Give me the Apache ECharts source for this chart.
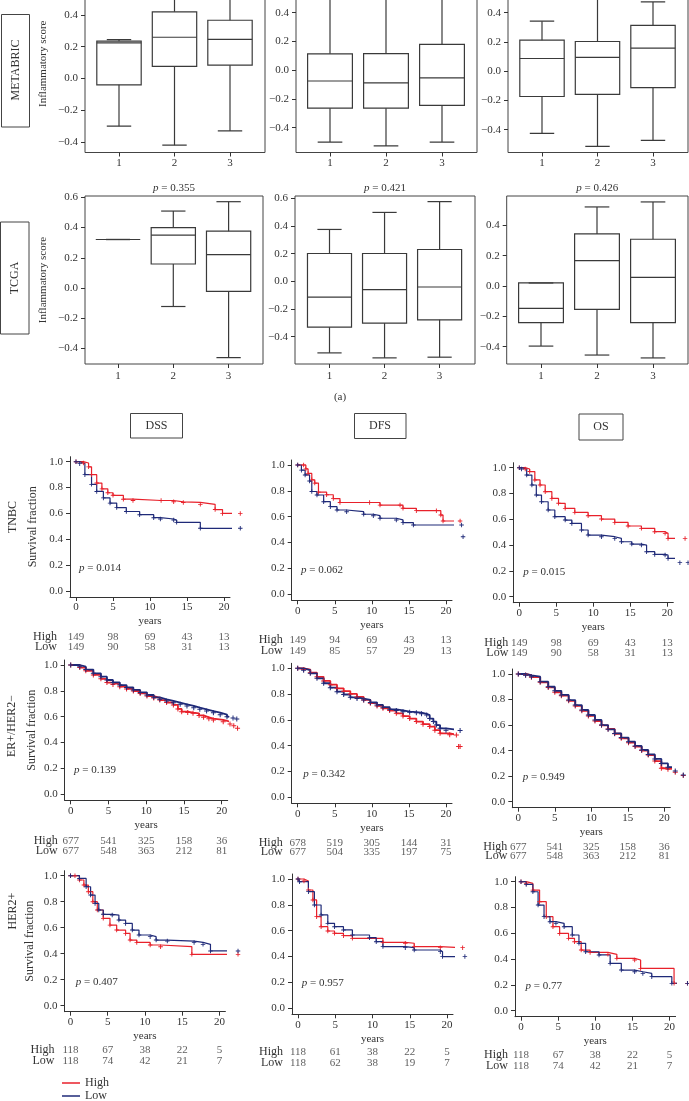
<!DOCTYPE html>
<html>
<head>
<meta charset="utf-8">
<script src="https://cdn.jsdelivr.net/npm/echarts@6.0.0/dist/echarts.min.js"></script>
<style>
  html, body { margin: 0; padding: 0; background: #fff; }
  #chart { width: 689px; height: 1101px; }
</style>
</head>
<body>
<div id="chart"></div>
<script>
const FONT = '"Liberation Serif", "DejaVu Serif", serif';
const INK = '#333';
const BOXINK = '#3a3a3a';
const RED = '#e8212b';
const NAVY = '#1f2a78';

// ---- (a) inflammatory score boxes, each [min, Q1, median, Q3, max]
const boxGroups = [1, 2, 3];
const boxRows = ['METABRIC', 'TCGA'];
const metabricDSS = [[-0.30, -0.04, 0.225, 0.235, 0.245], [-0.42, 0.077, 0.26, 0.42, 0.50], [-0.33, 0.084, 0.246, 0.367, 0.62]];
const metabricDFS = [[-0.50, -0.264, -0.075, 0.114, 0.62], [-0.527, -0.264, -0.088, 0.116, 0.64], [-0.50, -0.245, -0.054, 0.18, 0.62]];
const metabricOS = [[-0.425, -0.173, 0.087, 0.212, 0.342], [-0.514, -0.158, 0.094, 0.203, 0.58], [-0.473, -0.112, 0.158, 0.313, 0.474]];
const tcgaDSS = [[0.321, 0.321, 0.321, 0.321, 0.321], [-0.122, 0.159, 0.35, 0.40, 0.509], [-0.46, -0.022, 0.221, 0.376, 0.571]];
const tcgaDFS = [[-0.517, -0.331, -0.114, 0.201, 0.375], [-0.553, -0.302, -0.06, 0.201, 0.498], [-0.548, -0.278, -0.041, 0.23, 0.576]];
const tcgaOS = [[-0.396, -0.242, -0.147, 0.02, 0.02], [-0.455, -0.154, 0.167, 0.343, 0.521], [-0.474, -0.242, 0.057, 0.308, 0.554]];
const tcgaP = ['0.355', '0.421', '0.426'];

// ---- (b) Kaplan-Meier curves, [years, survival fraction]
const kmRows = ['TNBC', 'ER+/HER2\u2212', 'HER2+'];
const kmCols = ['DSS', 'DFS', 'OS'];
const kmArms = ['High', 'Low'];
const kmTicks = [0, 5, 10, 15, 20];
const riskTimes = [0, 5, 10, 15, 20];
const kmP = ['0.014', '0.062', '0.015', '0.139', '0.342', '0.949', '0.407', '0.957', '0.77'];

const tnbcDssHigh = [[0,1],[1,0.99],[1.7,0.96],[2.1,0.9],[2.8,0.835],[3.5,0.79],[4.3,0.76],[5,0.74],[6.4,0.71],[7.7,0.70],[11.5,0.70],[13.2,0.69],[14.5,0.685],[16.8,0.67],[18.8,0.63],[19.8,0.60],[22.2,0.60]];
const tnbcDssLow = [[0,1],[0.5,0.985],[1.2,0.9],[2.1,0.825],[2.8,0.77],[3.7,0.72],[4.6,0.68],[5.5,0.645],[6.8,0.615],[8.6,0.59],[10.5,0.567],[11.4,0.557],[13.2,0.549],[13.6,0.531],[16.8,0.485],[22.2,0.485]];
const tnbcDfsHigh = [[0,1],[0.8,1],[1.1,0.97],[1.4,0.935],[1.9,0.885],[2.3,0.86],[2.8,0.79],[3.9,0.77],[4.8,0.74],[5.7,0.71],[9.7,0.71],[11.1,0.69],[13.8,0.69],[14.2,0.665],[16,0.647],[18.7,0.647],[19.3,0.613],[19.6,0.567],[21.9,0.567]];
const tnbcDfsLow = [[0,1],[0.5,0.96],[1,0.923],[1.6,0.876],[1.9,0.795],[2.6,0.768],[3.5,0.716],[4.4,0.678],[5.3,0.652],[6.6,0.639],[8.9,0.619],[10.2,0.608],[11.1,0.588],[13.3,0.575],[14.2,0.554],[15.6,0.536],[22.1,0.536],[22.3,0.445]];
const tnbcOsHigh = [[0,1],[0.8,0.99],[1.4,0.97],[2.1,0.905],[2.8,0.866],[3.5,0.814],[4.4,0.762],[5.3,0.724],[6.2,0.685],[7.5,0.654],[9.3,0.628],[11.1,0.602],[12.9,0.576],[14.7,0.548],[16.5,0.53],[18.3,0.504],[19.7,0.491],[20.1,0.452],[22.4,0.452]];
const tnbcOsLow = [[0,1],[0.3,0.99],[1,0.943],[1.7,0.866],[2.3,0.788],[3,0.736],[3.9,0.672],[4.8,0.62],[6.2,0.594],[7.1,0.568],[8.4,0.517],[9.3,0.478],[11.1,0.465],[12.9,0.452],[13.8,0.426],[15.2,0.408],[16.5,0.40],[17.2,0.349],[18.3,0.328],[19.7,0.323],[20.1,0.297],[21.7,0.264],[22.8,0.264]];

const erDssHigh = [[0,1],[1.2,0.98],[2,0.955],[3,0.923],[4,0.893],[4.8,0.864],[5.6,0.85],[6.5,0.832],[7.4,0.815],[8.3,0.799],[9.2,0.78],[10.1,0.76],[11,0.745],[11.8,0.729],[12.7,0.71],[13.6,0.691],[14.2,0.66],[14.7,0.639],[15.5,0.632],[16.2,0.626],[17,0.61],[17.6,0.595],[18.3,0.585],[18.9,0.575],[20.2,0.562],[21.1,0.544],[21.6,0.53],[22.1,0.51]];
const erDssLow = [[0,1],[1.2,0.987],[2,0.965],[3,0.936],[4,0.91],[4.8,0.884],[5.6,0.865],[6.5,0.845],[7.4,0.826],[8.3,0.807],[9.2,0.788],[10.1,0.768],[11,0.75],[11.8,0.735],[12.7,0.722],[13.6,0.709],[14.5,0.696],[15.4,0.683],[16.3,0.67],[17.1,0.657],[18,0.644],[18.9,0.631],[19.8,0.616],[20.7,0.60],[21.5,0.59],[22,0.582]];
const erDfsHigh = [[0,1],[0.8,0.99],[1.7,0.966],[2.6,0.934],[3.5,0.902],[4.4,0.873],[5.3,0.845],[6.2,0.823],[7.1,0.801],[8,0.778],[8.9,0.755],[9.8,0.73],[10.7,0.708],[11.5,0.69],[12.4,0.672],[13.3,0.651],[14.2,0.63],[15.1,0.61],[16,0.587],[16.9,0.567],[17.8,0.548],[18.5,0.52],[19.2,0.496],[20.5,0.485],[21.4,0.483],[21.7,0.393],[21.9,0.393]];
const erDfsLow = [[0,1],[0.8,0.985],[1.7,0.961],[2.6,0.922],[3.5,0.884],[4.4,0.85],[5.3,0.819],[6.2,0.797],[7.1,0.775],[8,0.765],[8.9,0.755],[9.8,0.735],[10.7,0.716],[11.5,0.699],[12.4,0.682],[13.3,0.673],[14.2,0.664],[15.1,0.66],[16,0.656],[16.7,0.647],[17.4,0.638],[17.8,0.61],[18.3,0.587],[18.7,0.56],[19.2,0.535],[20,0.52],[21.9,0.517]];
const erOsHigh = [[0,1],[1,0.992],[1.8,0.975],[3,0.935],[4.1,0.895],[5,0.857],[5.9,0.83],[6.9,0.79],[7.8,0.75],[8.7,0.712],[9.6,0.672],[10.5,0.632],[11.4,0.598],[12.3,0.57],[13.2,0.532],[14.1,0.497],[15.1,0.462],[16,0.432],[16.9,0.40],[17.8,0.365],[18.7,0.318],[19.6,0.262],[20.5,0.255],[21.5,0.23],[22.6,0.205]];
const erOsLow = [[0,1],[1,0.99],[1.8,0.979],[3,0.94],[4.1,0.90],[5,0.868],[5.9,0.836],[6.9,0.796],[7.8,0.757],[8.7,0.718],[9.6,0.679],[10.5,0.64],[11.4,0.60],[12.3,0.567],[13.2,0.535],[14.1,0.502],[15.1,0.47],[16,0.437],[16.9,0.405],[17.8,0.37],[18.7,0.335],[19.6,0.30],[20.5,0.27],[21.5,0.24],[22.6,0.209]];

const her2DssHigh = [[0,1],[0.6,1],[1.2,0.967],[1.8,0.928],[2.4,0.877],[3,0.80],[3.6,0.736],[4.4,0.672],[5.3,0.62],[6.2,0.582],[7.4,0.556],[8,0.505],[8.9,0.487],[10.7,0.467],[12.1,0.454],[16.3,0.395],[22.5,0.395]];
const her2DssLow = [[0,1],[1.2,0.979],[2.1,0.915],[2.7,0.851],[3.3,0.787],[3.8,0.736],[4.4,0.703],[5.6,0.697],[6.5,0.659],[7.4,0.633],[8.3,0.582],[9.2,0.544],[10.7,0.531],[11.5,0.505],[13,0.497],[16.6,0.487],[17.8,0.472],[18.8,0.421],[22.5,0.421]];
const her2DfsHigh = [[0,1],[0.8,0.985],[1.4,0.915],[2,0.838],[2.5,0.709],[3.1,0.631],[4,0.598],[4.9,0.58],[6.1,0.562],[7.3,0.541],[11.4,0.51],[14.4,0.503],[15.6,0.477],[19.1,0.469],[22.1,0.469]];
const her2DfsLow = [[0,1],[0.2,0.979],[1.4,0.902],[2.2,0.799],[3.1,0.722],[4,0.657],[4.9,0.631],[6.1,0.606],[7.3,0.567],[9.6,0.546],[10.5,0.515],[11.4,0.477],[14.4,0.469],[15.6,0.451],[19.1,0.438],[19.4,0.40],[22.4,0.40]];
const her2OsHigh = [[0,1],[0.7,0.987],[1.6,0.935],[2.5,0.845],[3.4,0.729],[4.3,0.651],[5.2,0.599],[6.4,0.561],[7.2,0.535],[8.1,0.47],[9.3,0.452],[11.7,0.437],[12.9,0.406],[15.3,0.393],[16.1,0.328],[20.6,0.212],[22.4,0.212]];
const her2OsLow = [[0,1],[0.7,0.979],[1.6,0.922],[2.3,0.819],[3.1,0.729],[3.9,0.69],[4.7,0.677],[5.8,0.651],[6.9,0.587],[7.8,0.522],[8.7,0.457],[10.5,0.432],[12,0.367],[13.5,0.315],[15.3,0.302],[16.4,0.289],[17.6,0.264],[20.3,0.212],[22.4,0.212]];

// numbers at risk at riskTimes
const tnbcDssRiskHigh = [149, 98, 69, 43, 13], tnbcDssRiskLow = [149, 90, 58, 31, 13];
const tnbcDfsRiskHigh = [149, 94, 69, 43, 13], tnbcDfsRiskLow = [149, 85, 57, 29, 13];
const tnbcOsRiskHigh = [149, 98, 69, 43, 13], tnbcOsRiskLow = [149, 90, 58, 31, 13];
const erDssRiskHigh = [677, 541, 325, 158, 36], erDssRiskLow = [677, 548, 363, 212, 81];
const erDfsRiskHigh = [678, 519, 305, 144, 31], erDfsRiskLow = [677, 504, 335, 197, 75];
const erOsRiskHigh = [677, 541, 325, 158, 36], erOsRiskLow = [677, 548, 363, 212, 81];
const her2DssRiskHigh = [118, 67, 38, 22, 5], her2DssRiskLow = [118, 74, 42, 21, 7];
const her2DfsRiskHigh = [118, 61, 38, 22, 5], her2DfsRiskLow = [118, 62, 38, 19, 7];
const her2OsRiskHigh = [118, 67, 38, 22, 5], her2OsRiskLow = [118, 74, 42, 21, 7];

// ---- layout (pixel calibration of each panel)
const boxLayout = [
  { data: metabricDSS, L: 85, R: 265, T: -25, B: 152.5, xc: [[1, 119], [3, 230]], yc: [[0.4, 15], [-0.4, 142]], ticks: [-0.4, -0.2, 0, 0.2, 0.4], yName: 36, xm: 5 },
  { data: metabricDFS, L: 296, R: 477, T: -25, B: 152.5, xc: [[1, 330], [3, 442]], yc: [[0.4, 12.7], [-0.4, 127.7]], ticks: [-0.4, -0.2, 0, 0.2, 0.4], xm: 5 },
  { data: metabricOS, L: 508, R: 688, T: -25, B: 152.5, xc: [[1, 542], [3, 653]], yc: [[0.4, 12.7], [-0.4, 129.7]], ticks: [-0.4, -0.2, 0, 0.2, 0.4], xm: 5 },
  { data: tcgaDSS, L: 85, R: 263, T: 196, B: 364, xc: [[1, 118], [3, 228.6]], yc: [[0.6, 197.3], [-0.2, 318.3]], ticks: [-0.4, -0.2, 0, 0.2, 0.4, 0.6], yName: 36, xm: 7, p: tcgaP[0] },
  { data: tcgaDFS, L: 295, R: 475, T: 196, B: 364, xc: [[1, 329.5], [3, 439.6]], yc: [[0.6, 198.3], [-0.4, 336.7]], ticks: [-0.6, -0.4, -0.2, 0, 0.2, 0.4, 0.6], xm: 7, p: tcgaP[1] },
  { data: tcgaOS, L: 506.7, R: 688, T: 196, B: 364, xc: [[1, 541], [3, 653]], yc: [[0.4, 225.3], [-0.4, 346.7]], ticks: [-0.4, -0.2, 0, 0.2, 0.4], xm: 7, p: tcgaP[2] }
];

const kmLayout = [
  { hi: tnbcDssHigh, lo: tnbcDssLow, rHi: tnbcDssRiskHigh, rLo: tnbcDssRiskLow, x0: 76, x20: 224, y1: 461.7, y0: 591, risk: [636.7, 647.3], lg: 13, yName: 31, pAt: [79, 567.7] },
  { hi: tnbcDfsHigh, lo: tnbcDfsLow, rHi: tnbcDfsRiskHigh, rLo: tnbcDfsRiskLow, x0: 297.7, x20: 446, y1: 465, y0: 594.3, risk: [640, 650.7], lg: 9, pAt: [301, 570] },
  { hi: tnbcOsHigh, lo: tnbcOsLow, rHi: tnbcOsRiskHigh, rLo: tnbcOsRiskLow, x0: 519.3, x20: 667.3, y1: 467.7, y0: 596.7, risk: [642.7, 653.3], lg: 5, pAt: [523.3, 572.3] },
  { hi: erDssHigh, lo: erDssLow, rHi: erDssRiskHigh, rLo: erDssRiskLow, x0: 70.7, x20: 221.7, y1: 665, y0: 794.3, risk: [840.7, 850.7], lg: 7, yName: 27, pAt: [74, 770], thick: true },
  { hi: erDfsHigh, lo: erDfsLow, rHi: erDfsRiskHigh, rLo: erDfsRiskLow, x0: 297.7, x20: 446, y1: 668.3, y0: 797.3, risk: [842.7, 852.3], lg: 9, pAt: [303.3, 774], thick: true },
  { hi: erOsHigh, lo: erOsLow, rHi: erOsRiskHigh, rLo: erOsRiskLow, x0: 518.3, x20: 664.3, y1: 674, y0: 801.7, risk: [846.7, 856], lg: 5, pAt: [522.7, 776.7], thick: true },
  { hi: her2DssHigh, lo: her2DssLow, rHi: her2DssRiskHigh, rLo: her2DssRiskLow, x0: 70.5, x20: 219.4, y1: 875.7, y0: 1005.7, risk: [1050, 1060.7], lg: 10, yName: 29, pAt: [75.8, 981.7] },
  { hi: her2DfsHigh, lo: her2DfsLow, rHi: her2DfsRiskHigh, rLo: her2DfsRiskLow, x0: 298, x20: 447, y1: 879, y0: 1008.3, risk: [1052.3, 1063.3], lg: 9, pAt: [301.8, 983.3] },
  { hi: her2OsHigh, lo: her2OsLow, rHi: her2OsRiskHigh, rLo: her2OsRiskLow, x0: 521, x20: 669.6, y1: 881.7, y0: 1010.7, risk: [1055, 1065.7], lg: 7, pAt: [525.6, 985.7] }
];

const cal = (c, px) => c[0][0] + (px - c[0][1]) * (c[1][0] - c[0][0]) / (c[1][1] - c[0][1]);
const fmt1 = v => (v < 0 ? '\u2212' : '') + Math.abs(v).toFixed(1);
const tickStyle = { color: INK, width: 1 };
const labelStyle = { color: INK, fontFamily: FONT, fontSize: 11 };

const grids = [], xAxes = [], yAxes = [], series = [], graphics = [];

function renderBox(params, api) {
  const g = api.value(0);
  const mn = api.value(1), q1 = api.value(2), md = api.value(3), q3 = api.value(4), mx = api.value(5);
  const hw = 0.4, cw = 0.22;
  const tl = api.coord([g - hw, q3]), br = api.coord([g + hw, q1]);
  const seg = (a, b) => ({ type: 'line', shape: { x1: a[0], y1: a[1], x2: b[0], y2: b[1] }, style: { stroke: BOXINK, lineWidth: 1.2 } });
  return { type: 'group', children: [
    seg(api.coord([g, q3]), api.coord([g, mx])),
    seg(api.coord([g, q1]), api.coord([g, mn])),
    seg(api.coord([g - cw, mx]), api.coord([g + cw, mx])),
    seg(api.coord([g - cw, mn]), api.coord([g + cw, mn])),
    { type: 'rect', shape: { x: tl[0], y: tl[1], width: br[0] - tl[0], height: br[1] - tl[1] }, style: { fill: 'none', stroke: BOXINK, lineWidth: 1.2 } },
    seg(api.coord([g - hw, md]), api.coord([g + hw, md]))
  ] };
}

boxLayout.forEach(p => {
  const gi = grids.length;
  grids.push({ left: p.L, top: p.T, width: p.R - p.L, height: p.B - p.T, show: true, borderColor: '#444', borderWidth: 1, backgroundColor: 'transparent', outerBoundsMode: 'none', containLabel: false });
  xAxes.push({
    gridIndex: gi, type: 'value', min: cal(p.xc, p.L), max: cal(p.xc, p.R),
    axisLine: { show: false, onZero: false }, splitLine: { show: false },
    axisTick: { show: true, customValues: boxGroups, length: 4, lineStyle: tickStyle },
    axisLabel: { customValues: boxGroups, margin: p.xm, ...labelStyle, formatter: v => String(v) }
  });
  yAxes.push({
    gridIndex: gi, type: 'value', min: cal(p.yc, p.B), max: cal(p.yc, p.T),
    axisLine: { show: false, onZero: false }, splitLine: { show: false },
    axisTick: { show: true, customValues: p.ticks, length: 4, lineStyle: tickStyle },
    axisLabel: { customValues: p.ticks, margin: 7, ...labelStyle, formatter: fmt1 },
    name: p.yName ? 'Inflammatory score' : '', nameLocation: 'middle', nameGap: p.yName || 0,
    nameTextStyle: { color: INK, fontFamily: FONT, fontSize: 11 }
  });
  series.push({
    type: 'custom', xAxisIndex: gi, yAxisIndex: gi, silent: true, clip: true,
    renderItem: renderBox, encode: { x: 0, y: [1, 2, 3, 4, 5] },
    data: boxGroups.map((g, i) => [g, ...p.data[i]])
  });
  if (p.p) {
    graphics.push({ type: 'text', silent: true, x: (p.L + p.R) / 2, y: 187.7,
      style: { text: '{i|p} = ' + p.p, fill: INK, fontFamily: FONT, fontSize: 11, align: 'center', verticalAlign: 'middle',
        rich: { i: { fontStyle: 'italic', fontFamily: FONT, fontSize: 11, fill: INK } } } });
  }
});

const plusSymbol = 'path://M4,0H6V4H10V6H6V10H4V6H0V4H4Z';

kmLayout.forEach((p, k) => {
  const L = p.x0 - 6, R = p.x20 + 6, T = p.y1 - 5, B = p.y0 + 6;
  const xc = [[0, p.x0], [20, p.x20]], yc = [[1, p.y1], [0, p.y0]];
  const xmin = cal(xc, L), xmax = cal(xc, R);
  const gi = grids.length;
  grids.push({ left: L, top: T, width: R - L, height: B - T, outerBoundsMode: 'none', containLabel: false });
  xAxes.push({
    gridIndex: gi, type: 'value', min: xmin, max: xmax,
    axisLine: { show: true, onZero: false, lineStyle: { color: INK, width: 1 } }, splitLine: { show: false },
    axisTick: { show: true, customValues: kmTicks, length: 4, lineStyle: tickStyle },
    axisLabel: { customValues: kmTicks, margin: 5, ...labelStyle, formatter: v => String(v) },
    name: 'years', nameLocation: 'middle', nameGap: 19, nameTextStyle: { color: INK, fontFamily: FONT, fontSize: 11 }
  });
  const yt = [0, 0.2, 0.4, 0.6, 0.8, 1];
  yAxes.push({
    gridIndex: gi, type: 'value', min: cal(yc, B), max: cal(yc, T),
    axisLine: { show: true, onZero: false, lineStyle: { color: INK, width: 1 } }, splitLine: { show: false },
    axisTick: { show: true, customValues: yt, length: 4, lineStyle: tickStyle },
    axisLabel: { customValues: yt, margin: 7, ...labelStyle, formatter: fmt1 },
    name: p.yName ? 'Survival fraction' : '', nameLocation: 'middle', nameGap: p.yName || 0,
    nameTextStyle: { color: INK, fontFamily: FONT, fontSize: 12 }
  });
  [[kmArms[0], p.hi, RED], [kmArms[1], p.lo, NAVY]].forEach(([name, data, color]) => {
    series.push({
      type: 'line', name, xAxisIndex: gi, yAxisIndex: gi, step: 'end', data, clip: false,
      color, lineStyle: { color, width: p.thick ? 1.8 : 1.2 },
      showSymbol: true, symbol: plusSymbol, symbolSize: p.thick ? 5 : 4.5, itemStyle: { color },
      emphasis: { disabled: true }, silent: true, animation: false
    });
  });

  // numbers at risk table
  const h = p.risk[1] - p.risk[0];
  const ri = grids.length;
  grids.push({ left: L, top: p.risk[0] - h / 2, width: R - L, height: 2 * h, outerBoundsMode: 'none', containLabel: false });
  xAxes.push({ gridIndex: ri, type: 'value', min: xmin, max: xmax, show: false });
  yAxes.push({
    gridIndex: ri, type: 'category', data: kmArms, inverse: true,
    axisLine: { show: false }, axisTick: { show: false }, splitLine: { show: false },
    axisLabel: { interval: 0, hideOverlap: false, margin: p.lg, color: INK, fontFamily: FONT, fontSize: 12 }
  });
  [[kmArms[0], p.rHi], [kmArms[1], p.rLo]].forEach(([arm, nums]) => {
    series.push({
      type: 'scatter', xAxisIndex: ri, yAxisIndex: ri, silent: true, symbolSize: 1,
      itemStyle: { color: 'transparent' },
      label: { show: true, position: 'inside', formatter: q => String(q.value[2]), color: INK, fontFamily: FONT, fontSize: 11 },
      labelLayout: { hideOverlap: false },
      data: riskTimes.map((t, i) => [t, arm, nums[i]])
    });
  });

  graphics.push({ type: 'text', silent: true, x: p.pAt[0], y: p.pAt[1],
    style: { text: '{i|p} = ' + kmP[k], fill: INK, fontFamily: FONT, fontSize: 11, align: 'left', verticalAlign: 'middle',
      rich: { i: { fontStyle: 'italic', fontFamily: FONT, fontSize: 11, fill: INK } } } });
});

// frame labels, headers
const txt = (x, y, text, rot, size) => ({ type: 'text', silent: true, x, y, rotation: rot || 0,
  style: { text, fill: INK, fontFamily: FONT, fontSize: size || 12, align: 'center', verticalAlign: 'middle' } });
const frame = (x, y, w, h) => ({ type: 'rect', silent: true, shape: { x, y, width: w, height: h },
  style: { fill: 'none', stroke: '#444', lineWidth: 1 } });

graphics.push(
  frame(1.5, 14.5, 28, 112.5), txt(15.5, 70, boxRows[0], Math.PI / 2),
  frame(0.5, 222, 28.5, 112), txt(14.5, 278, boxRows[1], Math.PI / 2),
  txt(340, 397.5, '(a)', 0, 11),
  frame(130.5, 413.5, 52, 24.5), txt(156.5, 425.5, kmCols[0]),
  frame(354.5, 413.5, 51.5, 25), txt(380, 426, kmCols[1]),
  frame(579, 414, 44, 26), txt(601, 427, kmCols[2]),
  txt(13, 517, kmRows[0], Math.PI / 2),
  txt(12, 726, kmRows[1], Math.PI / 2),
  txt(13, 911, kmRows[2], Math.PI / 2)
);

const legendBase = {
  orient: 'vertical', left: 62, icon: 'rect', itemWidth: 18, itemHeight: 1.5, itemGap: 0, padding: 0,
  textStyle: { color: INK, fontFamily: FONT, fontSize: 12 }, selectedMode: false
};

const chart = echarts.init(document.getElementById('chart'), null, { renderer: 'canvas' });
chart.setOption({
  backgroundColor: '#fff',
  animation: false,
  textStyle: { fontFamily: FONT },
  grid: grids,
  xAxis: xAxes,
  yAxis: yAxes,
  series,
  graphic: { elements: graphics },
  legend: [
    { ...legendBase, data: [kmArms[0]], top: 1077 },
    { ...legendBase, data: [kmArms[1]], top: 1090 }
  ]
});
</script>
</body>
</html>
